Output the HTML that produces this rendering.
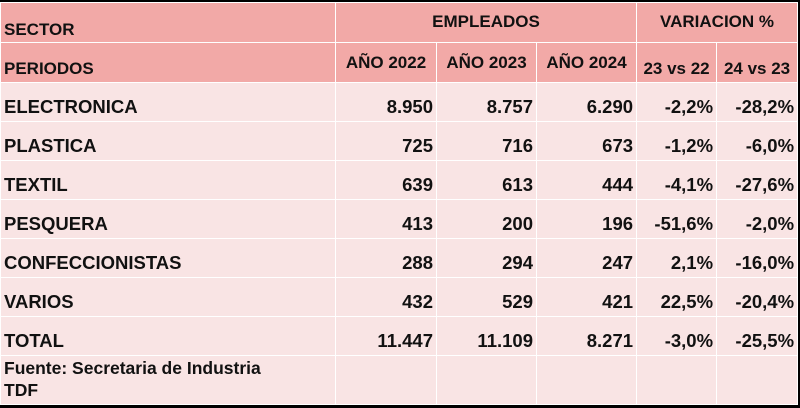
<!DOCTYPE html>
<html><head><meta charset="utf-8"><style>
body{margin:0;width:800px;height:408px;background:#000;overflow:hidden}
.w{position:absolute;left:0;top:2px;width:797px;height:402px;background:#f9e4e4}
table{border-collapse:collapse;table-layout:fixed;font-family:"Liberation Sans",sans-serif;font-weight:bold;color:#111}
td{border:1px solid #fff;padding:0 3px;white-space:nowrap;overflow:hidden}
.h td{background:#f2a9a7;font-size:17px}
.b tr{height:39px}
.b td{font-size:18.5px;text-align:right;padding-top:9px;padding-bottom:0}
.b td:first-child{text-align:left}
</style></head><body><div class="w">
<table style="width:797px">
<colgroup><col style="width:335px"><col style="width:101px"><col style="width:100px"><col style="width:100px"><col style="width:80px"><col style="width:81px"></colgroup>
<tr class="h" style="height:40px"><td style="vertical-align:bottom;padding-bottom:2px">SECTOR</td><td colspan="3" style="text-align:center;vertical-align:top;padding-top:9px">EMPLEADOS</td><td colspan="2" style="text-align:center;vertical-align:top;padding-top:9px">VARIACION %</td></tr>
<tr class="h" style="height:40px"><td style="vertical-align:bottom;padding-bottom:3px">PERIODOS</td><td style="text-align:center">AÑO 2022</td><td style="text-align:center">AÑO 2023</td><td style="text-align:center">AÑO 2024</td><td style="text-align:center;vertical-align:bottom;padding-bottom:3px">23 vs 22</td><td style="text-align:center;vertical-align:bottom;padding-bottom:3px">24 vs 23</td></tr>
<tbody class="b">
<tr><td>ELECTRONICA</td><td>8.950</td><td>8.757</td><td>6.290</td><td>-2,2%</td><td>-28,2%</td></tr>
<tr><td>PLASTICA</td><td>725</td><td>716</td><td>673</td><td>-1,2%</td><td>-6,0%</td></tr>
<tr><td>TEXTIL</td><td>639</td><td>613</td><td>444</td><td>-4,1%</td><td>-27,6%</td></tr>
<tr><td>PESQUERA</td><td>413</td><td>200</td><td>196</td><td>-51,6%</td><td>-2,0%</td></tr>
<tr><td>CONFECCIONISTAS</td><td>288</td><td>294</td><td>247</td><td>2,1%</td><td>-16,0%</td></tr>
<tr><td>VARIOS</td><td>432</td><td>529</td><td>421</td><td>22,5%</td><td>-20,4%</td></tr>
<tr><td>TOTAL</td><td>11.447</td><td>11.109</td><td>8.271</td><td>-3,0%</td><td>-25,5%</td></tr>
<tr style="height:49px"><td style="font-size:17.5px;line-height:22px;padding-top:1px;vertical-align:top">Fuente: Secretaria de Industria<br>TDF</td><td></td><td></td><td></td><td></td><td></td></tr>
</tbody></table></div></body></html>
